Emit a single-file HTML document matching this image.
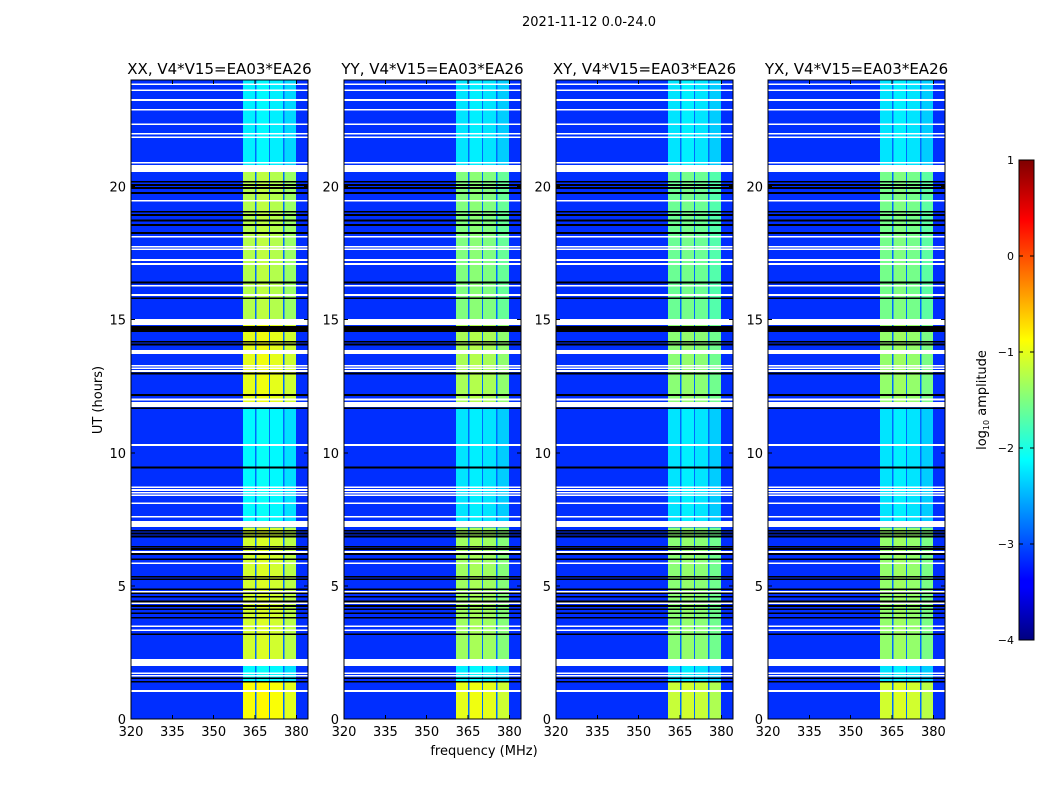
<!DOCTYPE html>
<html><head><meta charset="utf-8">
<style>
body{margin:0;background:#fff;}
svg text{font-family:"DejaVu Sans","Liberation Sans",sans-serif;fill:#000;}
</style></head>
<body>
<svg id="fig" width="1050" height="800" xmlns="http://www.w3.org/2000/svg">
<defs>
<linearGradient id="jetgrad" x1="0" y1="1" x2="0" y2="0">
<stop offset="0" stop-color="#00007f"/><stop offset="0.11" stop-color="#0000ff"/>
<stop offset="0.125" stop-color="#0000ff"/><stop offset="0.375" stop-color="#00ffff"/>
<stop offset="0.625" stop-color="#ffff00"/><stop offset="0.875" stop-color="#ff0000"/>
<stop offset="1" stop-color="#7f0000"/>
</linearGradient>
</defs>
<text x="589" y="26" font-size="13" text-anchor="middle">2021-11-12 0.0-24.0</text>
<text x="102" y="400" font-size="13" text-anchor="middle" transform="rotate(-90 102 400)">UT (hours)</text>
<text x="484" y="755" font-size="13" text-anchor="middle">frequency (MHz)</text>
<g id="panels"></g>
<g id="cbar">
<rect x="1019" y="160" width="15" height="480" fill="url(#jetgrad)" stroke="#000" stroke-width="1"/>
<text x="986" y="400" font-size="13" text-anchor="middle" transform="rotate(-90 986 400)">log<tspan font-size="8" dy="3">10</tspan><tspan dy="-3"> amplitude</tspan></text>
</g>
</svg>
<script>
const NS='http://www.w3.org/2000/svg';
const panelTitles=['XX, V4*V15=EA03*EA26','YY, V4*V15=EA03*EA26','XY, V4*V15=EA03*EA26','YX, V4*V15=EA03*EA26'];
const xTicks=[320,335,350,365,380];
const yTicks=[0,5,10,15,20];
const cbarTicks=[1,0,-1,-2,-3,-4];
const bgLevel=-3.15;
const gapLevel=-2.85;
// time segments [startHour,endHour] and band level (log10) per panel
const segStart=[0,1.4,2.25,7.3,11.85,15.0,20.75];
const segEnd=[1.4,2.05,7.2,11.7,14.8,20.55,24];
const levelXX=[-0.9,-2.15,-1.1,-2.15,-1.0,-1.25,-2.2];
const levelYY=[-1.0,-2.2,-1.35,-2.25,-1.3,-1.5,-2.25];
const levelXY=[-1.15,-2.25,-1.45,-2.25,-1.45,-1.6,-2.25];
const levelYX=[-1.1,-2.25,-1.4,-2.25,-1.4,-1.55,-2.25];
const panelLevels=[levelXX,levelYY,levelXY,levelYX];
// sub-band edges (MHz) and offsets
const subLo=[360.6,365.5,370.5,375.6];
const subHi=[365.0,370.0,375.1,379.9];
const subOffset=[0,0.05,0,-0.12];
// flagged (white) rows, hours
const whiteThin=[23.84,23.62,23.25,22.88,22.34,21.98,21.85,20.89,19.47,18.11,17.74,17.64,17.24,17.09,16.27,13.27,13.17,13.07,12.0,10.29,8.70,8.60,8.50,8.41,8.10,7.60,5.85,4.78,4.35,3.49,3.34,1.72,1.62,1.05];
const whiteStart=[20.55,15.89,14.80,13.71,11.72,7.21,6.23,1.99];
const whiteEnd=[20.81,15.96,15.02,13.86,11.91,7.44,6.31,2.25];
// zero (black) rows, hours
const blackThin=[20.18,20.06,19.94,19.76,19.05,18.93,18.72,18.55,18.25,16.39,15.80,14.17,14.07,12.98,12.17,11.67,9.45,7.07,6.97,6.85,6.47,6.38,6.20,6.00,5.34,5.25,4.87,4.72,4.59,4.41,4.24,4.12,3.97,3.80,3.18,1.53,1.40];
const blackStart=[14.54];
const blackEnd=[14.76];

const panelX=[131,344,556,768], PW=177, PT=80, PB=719;
const fMin=320, fMax=384.2, tMin=0, tMax=24;

function jet(v){
  let t=(v+4)/5; t=Math.max(0,Math.min(1,t));
  const c=x=>Math.round(255*Math.max(0,Math.min(1,x)));
  const r=c(Math.min(4*t-1.5,-4*t+4.5)), g=c(Math.min(4*t-0.5,-4*t+3.5)), b=c(Math.min(4*t+0.5,-4*t+2.5));
  return `rgb(${r},${g},${b})`;
}
function mk(tag,attrs,parent){const e=document.createElementNS(NS,tag);for(const k in attrs)e.setAttribute(k,attrs[k]);parent.appendChild(e);return e;}

const root=document.getElementById('panels');
panelTitles.forEach((title,p)=>{
  const x0=panelX[p];
  const xs=f=>x0+(f-fMin)/(fMax-fMin)*PW;
  const ys=h=>PB-(h-tMin)/(tMax-tMin)*(PB-PT);
  const g=mk('g',{'shape-rendering':'crispEdges'},root);
  
  
  const bg=mk('rect',{x:x0,y:PT,width:PW,height:PB-PT,fill:jet(bgLevel)},g);
  
  
  const bandBg=mk('rect',{x:xs(subLo[0]),y:PT,width:xs(subHi[subHi.length-1])-xs(subLo[0]),height:PB-PT,fill:jet(gapLevel)},g);
  
  
  const lv=panelLevels[p];
  segStart.forEach((s,i)=>{
    subLo.forEach((lo,j)=>{
      const r=mk('rect',{x:xs(lo),y:ys(segEnd[i]),width:xs(subHi[j])-xs(lo),height:ys(s)-ys(segEnd[i]),fill:jet(lv[i]+subOffset[j])},g);
      
      
    });
  });
  blackThin.forEach(h=>{
    const r=mk('rect',{x:x0,y:ys(h)-0.9,width:PW,height:1.8,fill:'#000'},g);
    
    
  });
  blackStart.forEach((s,i)=>{
    const r=mk('rect',{x:x0,y:ys(blackEnd[i]),width:PW,height:ys(s)-ys(blackEnd[i]),fill:'#000'},g);
    
    
  });
  whiteThin.forEach(h=>{
    const r=mk('rect',{x:x0,y:ys(h)-0.8,width:PW,height:1.6,fill:'#fff'},g);
    
    
  });
  whiteStart.forEach((s,i)=>{
    const r=mk('rect',{x:x0,y:ys(whiteEnd[i]),width:PW,height:ys(s)-ys(whiteEnd[i]),fill:'#fff'},g);
    
    
  });
  const fr=mk('rect',{x:x0,y:PT,width:PW,height:PB-PT,fill:'none',stroke:'#000','stroke-width':1},g);
  
  
  const tt=mk('text',{x:x0+PW/2,y:74,'font-size':15,'text-anchor':'middle'},g);
  tt.textContent=title;
  
  
  xTicks.forEach(f=>{
    mk('line',{x1:xs(f),x2:xs(f),y1:PB,y2:PB-4,stroke:'#000'},g);
    mk('line',{x1:xs(f),x2:xs(f),y1:PT,y2:PT+4,stroke:'#000'},g);
    const t=mk('text',{x:xs(f),y:PB+17,'font-size':13,'text-anchor':'middle'},g);
    t.textContent=f;
    
    
  });
  yTicks.forEach(h=>{
    mk('line',{x1:x0,x2:x0+4,y1:ys(h),y2:ys(h),stroke:'#000'},g);
    mk('line',{x1:x0+PW,x2:x0+PW-4,y1:ys(h),y2:ys(h),stroke:'#000'},g);
    const t=mk('text',{x:x0-5,y:ys(h)+5,'font-size':13,'text-anchor':'end'},g);
    t.textContent=h;
    
    
  });
});
const cb=document.getElementById('cbar');
cbarTicks.forEach(v=>{
  const y=160+(1-v)/5*480;
  mk('line',{x1:1019,x2:1023,y1:y,y2:y,stroke:'#000'},cb);
  mk('line',{x1:1034,x2:1030,y1:y,y2:y,stroke:'#000'},cb);
  const t=mk('text',{x:1014,y:y+4,'font-size':11,'text-anchor':'end'},cb);
  t.textContent=v<0?'\u2212'+(-v):String(v);
  
  
});
</script>
</body></html>
